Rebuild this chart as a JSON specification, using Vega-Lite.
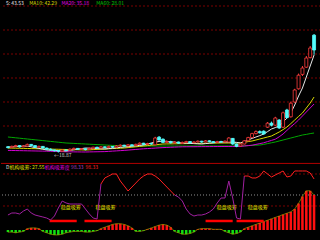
{
 "$schema": "https://vega.github.io/schema/vega-lite/v6.json",
 "background": "black",
 "padding": 0,
 "spacing": 0,
 "config": {"view": {"stroke": null}, "axis": {"disable": true}, "text": {"font": "Noto Sans CJK SC", "fontSize": 5}},
 "datasets": {
  "k": [
   {"i":0,"o":20.3,"c":20.1,"h":20.5,"l":19.9,"ma5":20.25,"ma10":20.0,"ma20":19.4,"ma60":22.75,"ind":21.4,"hist":-3},
   {"i":1,"o":20.1,"c":20.4,"h":20.6,"l":20.0,"ma5":20.3,"ma10":19.98,"ma20":19.38,"ma60":22.65,"ind":24.3,"hist":-3},
   {"i":2,"o":20.4,"c":20.6,"h":20.8,"l":20.2,"ma5":20.35,"ma10":19.95,"ma20":19.36,"ma60":22.55,"ind":24.3,"hist":-4},
   {"i":3,"o":20.6,"c":20.3,"h":20.7,"l":20.1,"ma5":20.4,"ma10":19.93,"ma20":19.34,"ma60":22.45,"ind":22.9,"hist":-3},
   {"i":4,"o":20.3,"c":20.5,"h":20.7,"l":20.2,"ma5":20.45,"ma10":19.9,"ma20":19.32,"ma60":22.35,"ind":27.1,"hist":-2},
   {"i":5,"o":20.5,"c":20.9,"h":21.1,"l":20.4,"ma5":20.5,"ma10":19.88,"ma20":19.3,"ma60":22.25,"ind":30.0,"hist":2},
   {"i":6,"o":20.9,"c":20.6,"h":21.0,"l":20.4,"ma5":20.3,"ma10":19.85,"ma20":19.28,"ma60":22.15,"ind":24.3,"hist":3},
   {"i":7,"o":20.6,"c":20.2,"h":20.7,"l":20.0,"ma5":20.1,"ma10":19.83,"ma20":19.26,"ma60":22.05,"ind":21.4,"hist":3},
   {"i":8,"o":20.2,"c":20.4,"h":20.6,"l":20.1,"ma5":19.9,"ma10":19.8,"ma20":19.24,"ma60":21.95,"ind":20.0,"hist":2},
   {"i":9,"o":20.4,"c":20.0,"h":20.5,"l":19.8,"ma5":19.7,"ma10":19.78,"ma20":19.22,"ma60":21.85,"ind":18.6,"hist":-2},
   {"i":10,"o":20.0,"c":19.7,"h":20.1,"l":19.5,"ma5":19.5,"ma10":19.75,"ma20":19.2,"ma60":21.75,"ind":17.1,"hist":-4},
   {"i":11,"o":19.7,"c":19.5,"h":19.9,"l":19.3,"ma5":19.45,"ma10":19.73,"ma20":19.17,"ma60":21.65,"ind":14.3,"hist":-6},
   {"i":12,"o":19.5,"c":19.3,"h":19.6,"l":19.1,"ma5":19.4,"ma10":19.7,"ma20":19.14,"ma60":21.55,"ind":20.0,"hist":-7},
   {"i":13,"o":19.3,"c":19.2,"h":19.4,"l":18.87,"ma5":19.35,"ma10":19.68,"ma20":19.11,"ma60":21.45,"ind":31.4,"hist":-7},
   {"i":14,"o":19.2,"c":19.5,"h":19.7,"l":19.1,"ma5":19.3,"ma10":19.65,"ma20":19.08,"ma60":21.35,"ind":41.4,"hist":-6},
   {"i":15,"o":19.5,"c":19.4,"h":19.7,"l":19.2,"ma5":19.25,"ma10":19.63,"ma20":19.05,"ma60":21.25,"ind":38.6,"hist":-4},
   {"i":16,"o":19.4,"c":19.7,"h":19.9,"l":19.3,"ma5":19.4,"ma10":19.6,"ma20":19.04,"ma60":21.2,"ind":37.1,"hist":-3},
   {"i":17,"o":19.7,"c":19.9,"h":20.1,"l":19.6,"ma5":19.55,"ma10":19.58,"ma20":19.03,"ma60":21.15,"ind":37.1,"hist":-2},
   {"i":18,"o":19.9,"c":19.7,"h":20.0,"l":19.5,"ma5":19.7,"ma10":19.55,"ma20":19.02,"ma60":21.1,"ind":37.1,"hist":-2},
   {"i":19,"o":19.7,"c":19.8,"h":20.0,"l":19.6,"ma5":19.85,"ma10":19.53,"ma20":19.01,"ma60":21.05,"ind":37.1,"hist":-2},
   {"i":20,"o":19.8,"c":19.6,"h":19.9,"l":19.4,"ma5":20.0,"ma10":19.5,"ma20":19.0,"ma60":21.0,"ind":30.0,"hist":-3},
   {"i":21,"o":19.6,"c":19.9,"h":20.1,"l":19.5,"ma5":19.95,"ma10":19.55,"ma20":19.02,"ma60":20.95,"ind":22.9,"hist":-3},
   {"i":22,"o":19.9,"c":20.2,"h":20.3,"l":19.8,"ma5":19.9,"ma10":19.6,"ma20":19.04,"ma60":20.9,"ind":17.1,"hist":-2},
   {"i":23,"o":20.2,"c":20.0,"h":20.3,"l":19.8,"ma5":19.85,"ma10":19.65,"ma20":19.06,"ma60":20.85,"ind":15.7,"hist":-1},
   {"i":24,"o":20.0,"c":20.3,"h":20.5,"l":19.9,"ma5":19.8,"ma10":19.7,"ma20":19.08,"ma60":20.8,"ind":65.7,"hist":2},
   {"i":25,"o":20.3,"c":20.1,"h":20.4,"l":19.9,"ma5":19.75,"ma10":19.75,"ma20":19.1,"ma60":20.75,"ind":74.3,"hist":4},
   {"i":26,"o":20.1,"c":20.4,"h":20.6,"l":20.0,"ma5":19.85,"ma10":19.8,"ma20":19.16,"ma60":20.7,"ind":77.1,"hist":6},
   {"i":27,"o":20.4,"c":20.2,"h":20.5,"l":20.0,"ma5":19.95,"ma10":19.85,"ma20":19.22,"ma60":20.65,"ind":80.0,"hist":8},
   {"i":28,"o":20.2,"c":20.5,"h":20.7,"l":20.1,"ma5":20.05,"ma10":19.9,"ma20":19.28,"ma60":20.6,"ind":80.0,"hist":9},
   {"i":29,"o":20.5,"c":20.7,"h":20.9,"l":20.3,"ma5":20.15,"ma10":19.95,"ma20":19.34,"ma60":20.55,"ind":70.0,"hist":9},
   {"i":30,"o":20.7,"c":20.5,"h":20.8,"l":20.3,"ma5":20.25,"ma10":20.0,"ma20":19.4,"ma60":20.5,"ind":62.9,"hist":8},
   {"i":31,"o":20.5,"c":20.8,"h":21.0,"l":20.4,"ma5":20.35,"ma10":20.1,"ma20":19.48,"ma60":20.5,"ind":55.7,"hist":6},
   {"i":32,"o":20.8,"c":20.6,"h":20.9,"l":20.4,"ma5":20.45,"ma10":20.2,"ma20":19.56,"ma60":20.5,"ind":61.4,"hist":3},
   {"i":33,"o":20.6,"c":20.9,"h":21.1,"l":20.5,"ma5":20.55,"ma10":20.3,"ma20":19.64,"ma60":20.5,"ind":67.1,"hist":-2},
   {"i":34,"o":20.9,"c":21.2,"h":21.4,"l":20.8,"ma5":20.65,"ma10":20.4,"ma20":19.72,"ma60":20.5,"ind":72.9,"hist":-2},
   {"i":35,"o":21.2,"c":20.9,"h":21.3,"l":20.7,"ma5":20.75,"ma10":20.5,"ma20":19.8,"ma60":20.5,"ind":77.1,"hist":-1},
   {"i":36,"o":20.9,"c":21.1,"h":21.3,"l":20.8,"ma5":21.0,"ma10":20.6,"ma20":19.86,"ma60":20.5,"ind":80.0,"hist":1},
   {"i":37,"o":21.1,"c":21.0,"h":21.3,"l":20.8,"ma5":21.25,"ma10":20.7,"ma20":19.92,"ma60":20.5,"ind":80.0,"hist":3},
   {"i":38,"o":20.8,"c":22.5,"h":22.8,"l":20.7,"ma5":21.5,"ma10":20.8,"ma20":19.98,"ma60":20.5,"ind":77.1,"hist":5},
   {"i":39,"o":22.7,"c":22.0,"h":23.0,"l":21.8,"ma5":21.62,"ma10":20.9,"ma20":20.04,"ma60":20.5,"ind":72.9,"hist":7},
   {"i":40,"o":22.2,"c":21.4,"h":22.4,"l":21.2,"ma5":21.75,"ma10":21.0,"ma20":20.1,"ma60":20.5,"ind":67.1,"hist":8},
   {"i":41,"o":21.4,"c":21.6,"h":21.9,"l":21.2,"ma5":21.65,"ma10":21.02,"ma20":20.14,"ma60":20.5,"ind":61.4,"hist":7},
   {"i":42,"o":21.6,"c":21.3,"h":21.8,"l":21.1,"ma5":21.55,"ma10":21.03,"ma20":20.18,"ma60":20.5,"ind":55.7,"hist":4},
   {"i":43,"o":21.3,"c":21.5,"h":21.7,"l":21.1,"ma5":21.45,"ma10":21.05,"ma20":20.22,"ma60":20.5,"ind":50.0,"hist":-2},
   {"i":44,"o":21.5,"c":21.2,"h":21.6,"l":21.0,"ma5":21.35,"ma10":21.07,"ma20":20.26,"ma60":20.5,"ind":47.1,"hist":-4},
   {"i":45,"o":21.2,"c":21.4,"h":21.6,"l":21.0,"ma5":21.25,"ma10":21.08,"ma20":20.3,"ma60":20.5,"ind":41.4,"hist":-6},
   {"i":46,"o":21.4,"c":21.6,"h":21.8,"l":21.3,"ma5":21.2,"ma10":21.1,"ma20":20.31,"ma60":20.5,"ind":30.0,"hist":-6},
   {"i":47,"o":21.6,"c":21.3,"h":21.7,"l":21.1,"ma5":21.15,"ma10":21.12,"ma20":20.32,"ma60":20.5,"ind":22.9,"hist":-5},
   {"i":48,"o":21.3,"c":21.5,"h":21.7,"l":21.2,"ma5":21.1,"ma10":21.13,"ma20":20.32,"ma60":20.5,"ind":20.0,"hist":-3},
   {"i":49,"o":21.5,"c":21.7,"h":21.9,"l":21.4,"ma5":21.05,"ma10":21.15,"ma20":20.33,"ma60":20.5,"ind":21.4,"hist":1},
   {"i":50,"o":21.7,"c":21.5,"h":21.8,"l":21.3,"ma5":21.0,"ma10":21.17,"ma20":20.34,"ma60":20.5,"ind":21.4,"hist":2},
   {"i":51,"o":21.5,"c":21.8,"h":22.0,"l":21.4,"ma5":21.1,"ma10":21.18,"ma20":20.35,"ma60":20.5,"ind":22.9,"hist":2},
   {"i":52,"o":21.8,"c":21.6,"h":21.9,"l":21.4,"ma5":21.2,"ma10":21.2,"ma20":20.35,"ma60":20.5,"ind":25.7,"hist":2},
   {"i":53,"o":21.6,"c":21.4,"h":21.7,"l":21.2,"ma5":21.3,"ma10":21.22,"ma20":20.36,"ma60":20.5,"ind":30.0,"hist":1},
   {"i":54,"o":21.4,"c":21.6,"h":21.8,"l":21.3,"ma5":21.4,"ma10":21.23,"ma20":20.37,"ma60":20.5,"ind":38.6,"hist":1},
   {"i":55,"o":21.6,"c":21.5,"h":21.8,"l":21.3,"ma5":21.5,"ma10":21.25,"ma20":20.37,"ma60":20.5,"ind":45.7,"hist":1},
   {"i":56,"o":21.5,"c":21.7,"h":21.9,"l":21.4,"ma5":21.5,"ma10":21.25,"ma20":20.38,"ma60":20.5,"ind":45.7,"hist":-2},
   {"i":57,"o":21.5,"c":22.5,"h":22.7,"l":21.4,"ma5":21.5,"ma10":21.25,"ma20":20.38,"ma60":20.5,"ind":70.0,"hist":-4},
   {"i":58,"o":22.4,"c":21.0,"h":22.5,"l":20.8,"ma5":21.5,"ma10":21.25,"ma20":20.39,"ma60":20.5,"ind":45.7,"hist":-6},
   {"i":59,"o":21.0,"c":20.4,"h":21.1,"l":20.2,"ma5":21.4,"ma10":21.25,"ma20":20.39,"ma60":20.5,"ind":17.1,"hist":-5},
   {"i":60,"o":20.5,"c":21.0,"h":21.2,"l":20.4,"ma5":21.25,"ma10":21.25,"ma20":20.4,"ma60":20.5,"ind":15.7,"hist":-3},
   {"i":61,"o":21.0,"c":21.8,"h":22.0,"l":20.9,"ma5":21.6,"ma10":21.4,"ma20":20.5,"ma60":20.55,"ind":77.1,"hist":2},
   {"i":62,"o":21.8,"c":22.6,"h":22.8,"l":21.7,"ma5":22.0,"ma10":21.6,"ma20":20.6,"ma60":20.6,"ind":77.1,"hist":4},
   {"i":63,"o":22.6,"c":23.6,"h":23.8,"l":22.5,"ma5":22.4,"ma10":21.75,"ma20":20.7,"ma60":20.65,"ind":74.3,"hist":6},
   {"i":64,"o":23.6,"c":24.1,"h":24.4,"l":23.4,"ma5":22.75,"ma10":22.0,"ma20":20.9,"ma60":20.7,"ind":74.3,"hist":8},
   {"i":65,"o":24.1,"c":23.8,"h":24.4,"l":23.6,"ma5":23.1,"ma10":22.25,"ma20":21.1,"ma60":20.75,"ind":77.1,"hist":10},
   {"i":66,"o":24.2,"c":23.5,"h":24.4,"l":23.3,"ma5":23.5,"ma10":22.5,"ma20":21.3,"ma60":20.9,"ind":84.3,"hist":12},
   {"i":67,"o":25.2,"c":26.2,"h":26.5,"l":25.0,"ma5":24.1,"ma10":22.75,"ma20":21.6,"ma60":21.1,"ind":80.0,"hist":14},
   {"i":68,"o":26.2,"c":25.7,"h":26.6,"l":25.4,"ma5":24.75,"ma10":23.0,"ma20":21.9,"ma60":21.3,"ind":75.7,"hist":16},
   {"i":69,"o":25.7,"c":27.5,"h":27.8,"l":25.6,"ma5":25.1,"ma10":23.5,"ma20":22.2,"ma60":21.5,"ind":78.6,"hist":18},
   {"i":70,"o":27.0,"c":25.0,"h":27.2,"l":24.8,"ma5":25.5,"ma10":24.0,"ma20":22.8,"ma60":21.75,"ind":81.4,"hist":20},
   {"i":71,"o":25.2,"c":28.8,"h":29.1,"l":25.0,"ma5":26.5,"ma10":24.6,"ma20":23.5,"ma60":22.0,"ind":84.3,"hist":22},
   {"i":72,"o":29.5,"c":27.6,"h":29.8,"l":27.4,"ma5":27.5,"ma10":25.25,"ma20":24.4,"ma60":22.25,"ind":75.7,"hist":24},
   {"i":73,"o":27.8,"c":31.2,"h":31.6,"l":27.6,"ma5":28.75,"ma10":26.1,"ma20":25.3,"ma60":22.5,"ind":77.1,"hist":26},
   {"i":74,"o":31.5,"c":34.5,"h":34.8,"l":31.3,"ma5":30.75,"ma10":27.0,"ma20":26.1,"ma60":22.75,"ind":84.3,"hist":30},
   {"i":75,"o":34.8,"c":38.2,"h":38.6,"l":34.6,"ma5":33.0,"ma10":27.9,"ma20":27.0,"ma60":23.0,"ind":84.3,"hist":38},
   {"i":76,"o":38.4,"c":40.0,"h":40.5,"l":38.0,"ma5":35.0,"ma10":28.75,"ma20":28.0,"ma60":23.25,"ind":84.3,"hist":48},
   {"i":77,"o":40.2,"c":42.5,"h":43.0,"l":40.0,"ma5":37.75,"ma10":30.0,"ma20":29.0,"ma60":23.4,"ind":84.3,"hist":56},
   {"i":78,"o":42.6,"c":45.0,"h":45.5,"l":42.4,"ma5":40.5,"ma10":31.25,"ma20":30.0,"ma60":23.6,"ind":81.4,"hist":56},
   {"i":79,"o":48.2,"c":44.5,"h":48.5,"l":43.3,"ma5":43.25,"ma10":32.75,"ma20":31.0,"ma60":23.75,"ind":72.9,"hist":50}
  ],
  "sig": [
   {"a":10.75,"b":17.75},{"a":19.75,"b":26.75},{"a":51,"b":58},{"a":59,"b":66}
  ],
  "one": [{}]
 },
 "vconcat": [
  {
   "width": 320, "height": 162,
   "layer": [
    {
     "data": {"values": [{"g":25.5},{"g":31.5},{"g":37.5},{"g":43.5},{"g":49.5},{"g":55.5}]},
     "mark": {"type": "rule", "color": "#7a0000", "strokeDash": [2, 2], "strokeWidth": 1},
     "encoding": {"y": {"field": "g", "type": "quantitative", "scale": {"domain": [16.5, 57], "nice": false, "zero": false}}}
    },
    {
     "data": {"name": "k"},
     "transform": [{"fold": ["ma60", "ma20", "ma10", "ma5"], "as": ["ma", "v"]}],
     "mark": {"type": "line", "strokeWidth": 1, "clip": true},
     "encoding": {
      "x": {"field": "i", "type": "quantitative", "scale": {"domain": [-0.5, 79.5], "nice": false, "zero": false}},
      "y": {"field": "v", "type": "quantitative"},
      "color": {"field": "ma", "type": "nominal", "scale": {"domain": ["ma60", "ma20", "ma10", "ma5"], "range": ["#00a800", "#d000d0", "#d8d800", "#e8e8e8"]}, "legend": null}
     }
    },
    {
     "data": {"name": "k"},
     "mark": {"type": "rule", "strokeWidth": 1},
     "encoding": {
      "x": {"field": "i", "type": "quantitative"},
      "y": {"field": "l", "type": "quantitative"},
      "y2": {"field": "h"},
      "color": {"condition": {"test": "datum.c >= datum.o", "value": "#ff3c3c"}, "value": "#54fcfc"}
     }
    },
    {
     "data": {"name": "k"},
     "mark": {"type": "bar", "width": 3, "strokeWidth": 0.8},
     "encoding": {
      "x": {"field": "i", "type": "quantitative"},
      "y": {"field": "o", "type": "quantitative"},
      "y2": {"field": "c"},
      "fill": {"condition": {"test": "datum.c >= datum.o", "value": "black"}, "value": "#54fcfc"},
      "stroke": {"condition": {"test": "datum.c >= datum.o", "value": "#ff3c3c"}, "value": "#54fcfc"}
     }
    },
    {
     "data": {"name": "one"},
     "mark": {"type": "text", "text": "←18.87", "color": "#c8c8c8", "align": "left", "baseline": "middle"},
     "encoding": {"x": {"datum": 11.9}, "y": {"datum": 18.3}}
    },
    {
     "data": {"name": "one"},
     "mark": {"type": "text", "text": "5: 43.53", "color": "#e8e8e8", "align": "left", "baseline": "middle"},
     "encoding": {"x": {"datum": -0.5}, "y": {"datum": 56.2}}
    },
    {
     "data": {"name": "one"},
     "mark": {"type": "text", "text": "MA10: 42.29", "color": "#d8d800", "align": "left", "baseline": "middle"},
     "encoding": {"x": {"datum": 5.5}, "y": {"datum": 56.2}}
    },
    {
     "data": {"name": "one"},
     "mark": {"type": "text", "text": "MA20: 35.18", "color": "#e000e0", "align": "left", "baseline": "middle"},
     "encoding": {"x": {"datum": 13.8}, "y": {"datum": 56.2}}
    },
    {
     "data": {"name": "one"},
     "mark": {"type": "text", "text": "MA60: 28.01", "color": "#00c000", "align": "left", "baseline": "middle"},
     "encoding": {"x": {"datum": 22.8}, "y": {"datum": 56.2}}
    }
   ]
  },
  {
   "width": 320, "height": 78,
   "layer": [
    {
     "data": {"values": [{"g":80},{"g":34.3}]},
     "mark": {"type": "rule", "color": "#7a0000", "strokeDash": [2, 2], "strokeWidth": 1},
     "encoding": {"y": {"field": "g", "type": "quantitative", "scale": {"domain": [-15.7, 95.7], "nice": false, "zero": false}}}
    },
    {
     "data": {"name": "one"},
     "mark": {"type": "rule", "color": "#909090", "strokeDash": [1, 2], "strokeWidth": 1},
     "encoding": {"y": {"datum": 50}}
    },
    {
     "data": {"name": "one"},
     "mark": {"type": "rule", "color": "#b00000", "strokeWidth": 1},
     "encoding": {"y": {"datum": 95.1}}
    },
    {
     "data": {"name": "k"},
     "mark": {"type": "bar", "width": 2.5},
     "encoding": {
      "x": {"field": "i", "type": "quantitative", "scale": {"domain": [-0.5, 79.5], "nice": false, "zero": false}},
      "y": {"field": "hist", "type": "quantitative"},
      "y2": {"datum": 0},
      "color": {"condition": {"test": "datum.hist > 0", "value": "#ff1010"}, "value": "#10e010"}
     }
    },
    {
     "data": {"name": "k"},
     "mark": {"type": "line", "color": "#a8a800", "strokeWidth": 0.8, "opacity": 0.8},
     "encoding": {"x": {"field": "i", "type": "quantitative"}, "y": {"field": "hist", "type": "quantitative"}}
    },
    {
     "data": {"name": "sig"},
     "mark": {"type": "rule", "color": "#ff0000", "strokeWidth": 2.5},
     "encoding": {"x": {"field": "a", "type": "quantitative"}, "x2": {"field": "b"}, "y": {"datum": 12.9}}
    },
    {
     "data": {"name": "sig"},
     "mark": {"type": "text", "text": "稳盘吸筹", "color": "#e8e800", "align": "right", "baseline": "middle", "dx": 4},
     "encoding": {"x": {"field": "b", "type": "quantitative"}, "y": {"datum": 32.9}}
    },
    {
     "data": {"name": "k"},
     "transform": [{"filter": "datum.i <= 24 || (datum.i >= 43 && datum.i <= 61)"}, {"calculate": "datum.i <= 24 ? 'a' : 'b'", "as": "seg"}],
     "mark": {"type": "line", "color": "#a020a0", "strokeWidth": 1, "clip": true},
     "encoding": {"x": {"field": "i", "type": "quantitative"}, "y": {"field": "ind", "type": "quantitative"}, "detail": {"field": "seg"}}
    },
    {
     "data": {"name": "k"},
     "transform": [{"filter": "(datum.i >= 24 && datum.i <= 43) || datum.i >= 61"}, {"calculate": "datum.i <= 43 ? 'a' : 'b'", "as": "seg"}],
     "mark": {"type": "line", "color": "#ff2020", "strokeWidth": 1, "clip": true},
     "encoding": {"x": {"field": "i", "type": "quantitative"}, "y": {"field": "ind", "type": "quantitative"}, "detail": {"field": "seg"}}
    },
    {
     "data": {"name": "one"},
     "mark": {"type": "text", "text": "D", "color": "#e8e8e8", "align": "left", "baseline": "middle"},
     "encoding": {"x": {"datum": -0.5}, "y": {"datum": 90}}
    },
    {
     "data": {"name": "one"},
     "mark": {"type": "text", "text": "机构吸筹: 27.55", "color": "#e0e000", "align": "left", "baseline": "middle"},
     "encoding": {"x": {"datum": 0.4}, "y": {"datum": 90}}
    },
    {
     "data": {"name": "one"},
     "mark": {"type": "text", "text": "机构吸筹度", "color": "#e000e0", "align": "left", "baseline": "middle"},
     "encoding": {"x": {"datum": 9.5}, "y": {"datum": 90}}
    },
    {
     "data": {"name": "one"},
     "mark": {"type": "text", "text": "98.33", "color": "#a040c0", "align": "left", "baseline": "middle"},
     "encoding": {"x": {"datum": 16.3}, "y": {"datum": 90}}
    },
    {
     "data": {"name": "one"},
     "mark": {"type": "text", "text": "98.33", "color": "#ff2020", "align": "left", "baseline": "middle"},
     "encoding": {"x": {"datum": 20}, "y": {"datum": 90}}
    }
   ]
  }
 ]
}
